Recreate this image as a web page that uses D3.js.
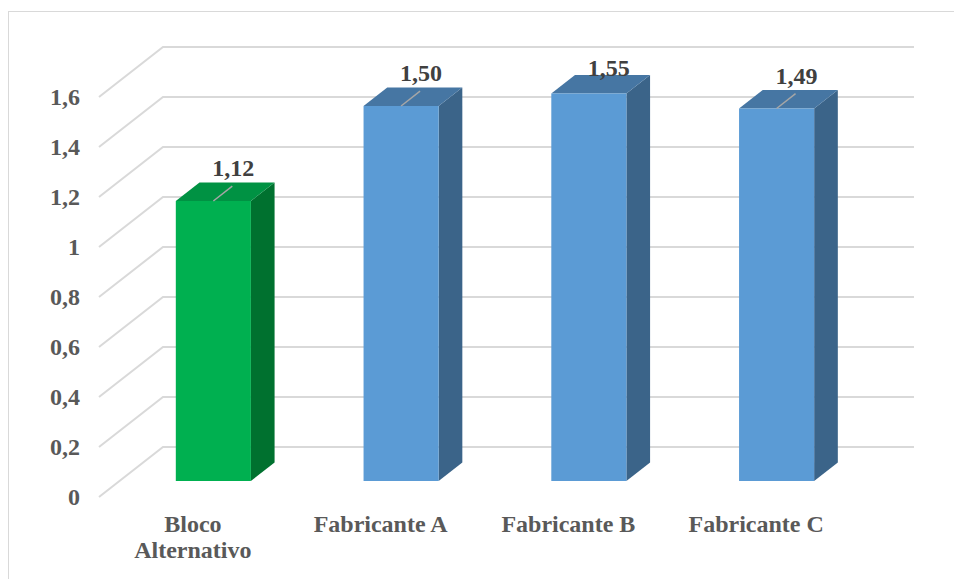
<!DOCTYPE html>
<html>
<head>
<meta charset="utf-8">
<script src="https://cdn.jsdelivr.net/npm/d3@7"></script>
<style>
    body { margin: 0; background: #fff; }
    text { font-family: "Liberation Serif", "Times New Roman", serif; font-weight: bold; }
</style>
</head>
<body>
<div id="chart"></div>
<script>
// data
const categories = ["Bloco Alternativo", "Fabricante A", "Fabricante B", "Fabricante C"];
const values = [1.12, 1.50, 1.55, 1.49];
const valueLabels = ["1,12", "1,50", "1,55", "1,49"];
const yTicks = [0, 0.2, 0.4, 0.6, 0.8, 1, 1.2, 1.4, 1.6];
const yTickLabels = ["0", "0,2", "0,4", "0,6", "0,8", "1", "1,2", "1,4", "1,6"];
const barColors = ["green", "blue", "blue", "blue"];

const W = 954, H = 579;

// face colours: front, top, side
const palette = {
    green: {front: "#00B050", top: "#009243", side: "#00712F"},
    blue: {front: "#5B9BD5", top: "#4676A3", side: "#3B6489"}
};

// oblique depth of the plot box
const DX = 64, DY = 50;
const d0 = 0.32, d1 = 0.69; // bar depth range

const svg = d3.select("#chart").append("svg")
    .attr("width", W)
    .attr("height", H);

// chart border
svg.append("rect")
    .attr("x", 8.5).attr("y", 11.5)
    .attr("width", 1000).attr("height", 1000)
    .attr("fill", "none")
    .attr("stroke", "#D9D9D9");

// scales
const x = d3.scaleBand()
    .domain(categories)
    .range([99, 850])
    .paddingInner(0.6)
    .paddingOuter(0.3);

const y = d3.scaleLinear()
    .domain([0, 1.6])
    .range([497, 97]);

const xStart = x.range()[0], xEnd = x.range()[1];

// gridlines: left wall diagonals + back wall horizontals
const grid = svg.append("g").attr("class", "grid");
grid.selectAll("path")
    .data(yTicks)
    .join("path")
    .attr("d", v => `M${xStart},${y(v)} L${xStart + DX},${y(v) - DY} L${xEnd + DX},${y(v) - DY}`)
    .attr("fill", "none")
    .attr("stroke", "#D9D9D9")
    .attr("stroke-width", 2);

// y axis labels
svg.append("g")
    .selectAll("text")
    .data(yTicks)
    .join("text")
    .attr("x", 80)
    .attr("y", v => y(v))
    .attr("dy", "0.35em")
    .attr("text-anchor", "end")
    .attr("font-size", 24)
    .attr("fill", "#595959")
    .text((v, i) => yTickLabels[i]);

// bars
const bars = categories.map((c, i) => {
    let bx = x(c) + d0 * DX;
    let by0 = y(0) - d0 * DY;
    let h = y(0) - y(values[i]);
    return {
        cat: c, value: values[i], label: valueLabels[i], col: palette[barColors[i]],
        x: bx, w: x.bandwidth(), bottom: by0, top: by0 - h,
        ddx: (d1 - d0) * DX, ddy: (d1 - d0) * DY
    };
});

const barGroup = svg.append("g").attr("class", "bars");
const bg = barGroup.selectAll("g")
    .data(bars)
    .join("g");

// side face
bg.append("path")
    .attr("d", d => `M${d.x + d.w},${d.bottom} L${d.x + d.w + d.ddx},${d.bottom - d.ddy} L${d.x + d.w + d.ddx},${d.top - d.ddy} L${d.x + d.w},${d.top} Z`)
    .attr("fill", d => d.col.side);

// top face
bg.append("path")
    .attr("d", d => `M${d.x},${d.top} L${d.x + d.ddx},${d.top - d.ddy} L${d.x + d.w + d.ddx},${d.top - d.ddy} L${d.x + d.w},${d.top} Z`)
    .attr("fill", d => d.col.top);

// front face
bg.append("rect")
    .attr("x", d => d.x)
    .attr("y", d => d.top)
    .attr("width", d => d.w)
    .attr("height", d => d.bottom - d.top)
    .attr("fill", d => d.col.front);

// data labels with leader lines
bars.forEach(d => {
    d.cx = d.x + d.w / 2;
    d.ly = Math.max(d.top - 33, 68);
    d.clamped = d.top - 33 < 68;
});

bg.filter(d => !d.clamped)
    .append("line")
    .attr("x1", d => d.cx)
    .attr("y1", d => d.top)
    .attr("x2", d => d.cx + 0.8 * d.ddx)
    .attr("y2", d => d.top - 0.8 * d.ddy)
    .attr("stroke", "#A6A6A6")
    .attr("stroke-width", 1.5);

bg.append("text")
    .attr("x", d => d.cx + 20)
    .attr("y", d => d.ly)
    .attr("dy", "0.35em")
    .attr("text-anchor", "middle")
    .attr("font-size", 24)
    .attr("fill", "#404040")
    .text(d => d.label);

// category labels (wrap when wider than two bar widths)
const catGroup = svg.append("g").attr("class", "cats");
categories.forEach(c => {
    let t = catGroup.append("text")
        .attr("x", x(c) + x.bandwidth() / 2)
        .attr("y", 532)
        .attr("text-anchor", "middle")
        .attr("font-size", 24)
        .attr("fill", "#595959")
        .text(c);
    if (t.node().getComputedTextLength() > x.bandwidth() * 2) {
        let words = c.split(" ");
        t.text(null);
        words.forEach((wd, k) => {
            t.append("tspan")
                .attr("x", x(c) + x.bandwidth() / 2)
                .attr("dy", k === 0 ? 0 : 26)
                .text(wd);
        });
    }
});
</script>
</body>
</html>
